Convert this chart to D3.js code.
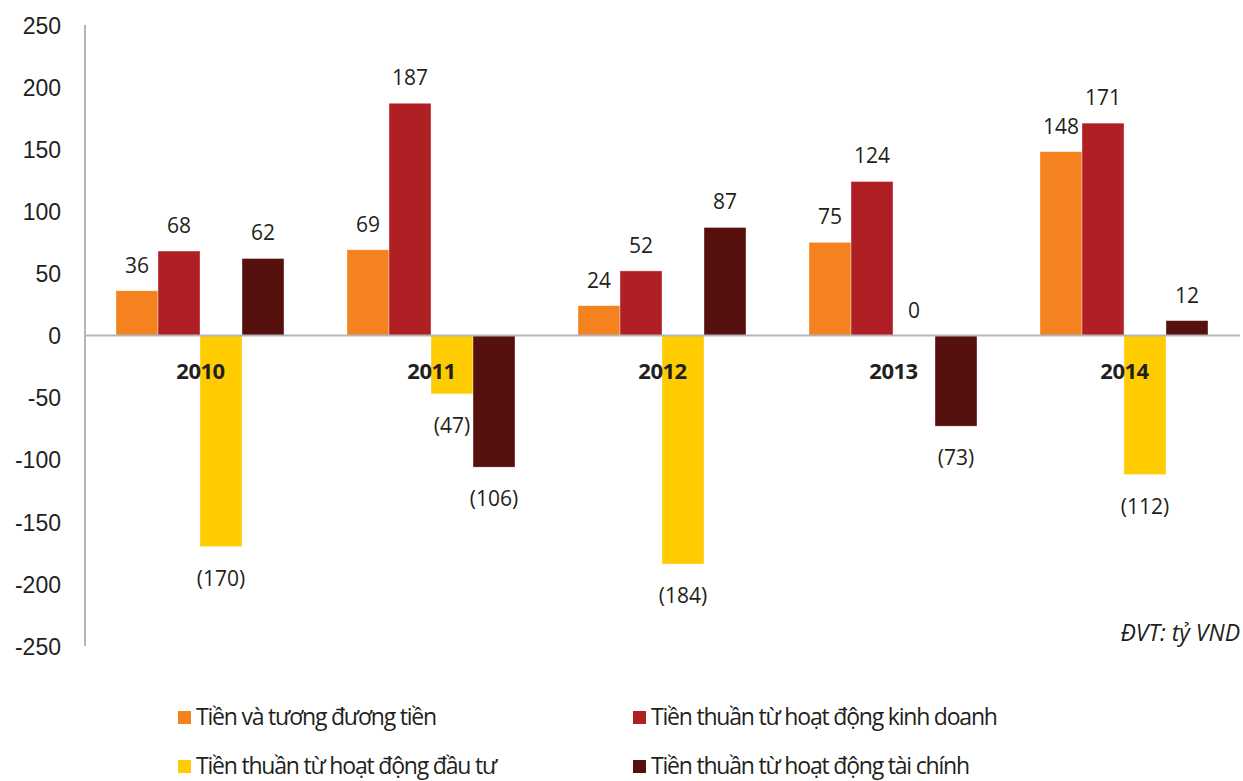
<!DOCTYPE html>
<html>
<head>
<meta charset="utf-8">
<script src="https://cdn.jsdelivr.net/npm/d3@7"></script>
<style>
  html, body { margin: 0; padding: 0; background: #fff; }
  svg { display: block; font-family: "Open Sans", "Noto Sans", sans-serif; }
</style>
</head>
<body>
<svg id="chart" width="1243" height="781"></svg>
<script>
// Cash flow summary, 2010–2014 (tỷ VND)
const years = ["2010", "2011", "2012", "2013", "2014"];
const seriesNames = [
  "Tiền và tương đương tiền",
  "Tiền thuần từ hoạt động kinh doanh",
  "Tiền thuần từ hoạt động đầu tư",
  "Tiền thuần từ hoạt động tài chính"
];
const cashEquivalents = [36, 69, 24, 75, 148];
const operatingCash   = [68, 187, 52, 124, 171];
const investingCash   = [-170, -47, -184, 0, -112];
const financingCash   = [62, -106, 87, -73, 12];
const yTicks = [250, 200, 150, 100, 50, 0, -50, -100, -150, -200, -250];
const unitNote = "ĐVT: tỷ VND";

const seriesValues = [cashEquivalents, operatingCash, investingCash, financingCash];
const colors = ["#F4821F", "#AF1F24", "#FECC00", "#56100E"];
const textColor = "#231F20";
const axisColor = "#B3B5B8";

const svg = d3.select("#chart");

const plot = { left: 85, right: 1240, top: 25, bottom: 646 };

const y = d3.scaleLinear().domain([-250, 250]).range([plot.bottom, plot.top]);
const x0 = d3.scaleBand().domain(years).range([plot.left, plot.right]).paddingInner(0).paddingOuter(0);
const x1 = d3.scaleBand().domain(d3.range(seriesNames.length))
  .range([31, x0.bandwidth() - 32]).padding(0);

// y axis: labels only (plain hyphen for negatives), plus a vertical rule
const yAxis = d3.axisLeft(y).tickValues(yTicks).tickSize(0).tickPadding(0)
  .tickFormat(d => String(d));
const gy = svg.append("g").attr("transform", `translate(61,0)`).call(yAxis);
gy.select(".domain").remove();
gy.selectAll("text")
  .attr("fill", textColor)
  .attr("font-size", 23)
  .attr("dy", "0.36em");

svg.append("line")
  .attr("x1", plot.left).attr("x2", plot.left)
  .attr("y1", plot.top).attr("y2", plot.bottom)
  .attr("stroke", axisColor).attr("stroke-width", 2);

// bars
const rows = [];
years.forEach((yr, i) => {
  seriesValues.forEach((vals, s) => rows.push({ year: yr, s, v: vals[i] }));
});

svg.append("g").selectAll("rect").data(rows).join("rect")
  .attr("x", d => x0(d.year) + x1(d.s))
  .attr("width", x1.bandwidth())
  .attr("y", d => y(Math.max(0, d.v)))
  .attr("height", d => Math.abs(y(d.v) - y(0)))
  .attr("fill", d => colors[d.s])
  .attr("stroke", "#fff")
  .attr("stroke-opacity", 0.6)
  .attr("stroke-width", 0.6);

// zero line
svg.append("line")
  .attr("x1", plot.left).attr("x2", plot.right)
  .attr("y1", y(0)).attr("y2", y(0))
  .attr("stroke", axisColor).attr("stroke-width", 2);

// value labels
const fmt = v => v < 0 ? `(${Math.abs(v)})` : `${v}`;
svg.append("g").selectAll("text").data(rows).join("text")
  .attr("x", d => x0(d.year) + x1(d.s) + x1.bandwidth() / 2)
  .attr("y", d => d.v < 0 ? y(d.v) + 39 : y(d.v) - 18)
  .attr("text-anchor", "middle")
  .attr("font-size", 21)
  .attr("fill", textColor)
  .text(d => fmt(d.v));

// category labels under the zero line
svg.append("g").selectAll("text").data(years).join("text")
  .attr("x", d => x0(d) + x0.bandwidth() / 2)
  .attr("y", y(0) + 43)
  .attr("text-anchor", "middle")
  .attr("font-size", 22)
  .attr("font-weight", "bold")
  .attr("letter-spacing", -0.5)
  .attr("fill", textColor)
  .text(d => d);

// unit note
svg.append("text")
  .attr("x", 1240).attr("y", 641)
  .attr("text-anchor", "end")
  .attr("font-size", 23)
  .attr("font-style", "italic")
  .attr("fill", textColor)
  .text(unitNote);

// legend, two columns by two rows
const legendPos = [
  { x: 178, y: 711 }, { x: 633, y: 711 },
  { x: 178, y: 760 }, { x: 633, y: 760 }
];
const lg = svg.append("g").selectAll("g").data(seriesNames).join("g")
  .attr("transform", (d, i) => `translate(${legendPos[i].x},${legendPos[i].y})`);
lg.append("rect").attr("width", 13).attr("height", 13)
  .attr("fill", (d, i) => colors[i]);
lg.append("text")
  .attr("x", 18).attr("y", 14)
  .attr("font-size", 23)
  .attr("letter-spacing", -1.2)
  .attr("fill", textColor)
  .text(d => d);
</script>
</body>
</html>
